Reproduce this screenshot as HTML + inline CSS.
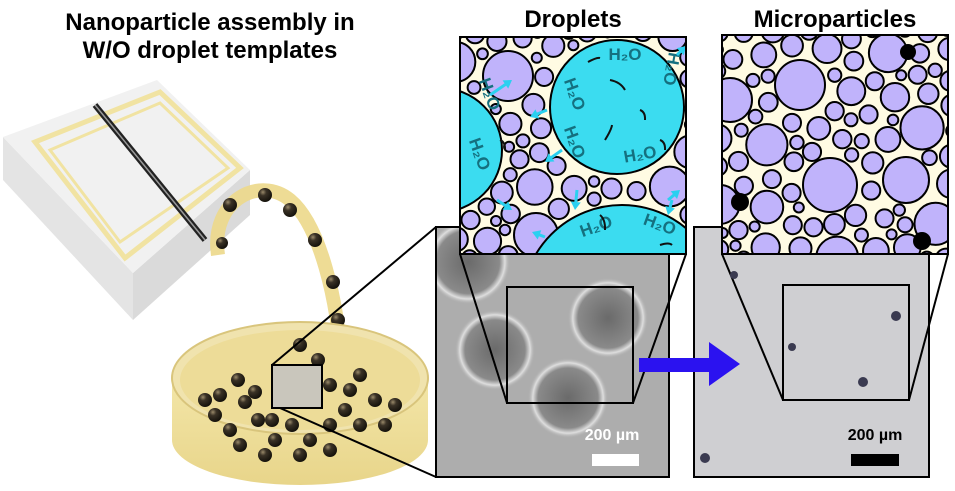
<!DOCTYPE html>
<html><head><meta charset="utf-8"><style>
body{margin:0;background:#fff;width:955px;height:491px;overflow:hidden}
svg{display:block}
text{font-family:"Liberation Sans",Arial,sans-serif;font-weight:bold}
</style></head><body>
<svg id="s" width="955" height="491" viewBox="0 0 955 491" xmlns="http://www.w3.org/2000/svg">
<defs>
<clipPath id="cd"><rect x="460" y="37" width="226" height="217"/></clipPath>
<clipPath id="cm"><rect x="722" y="35" width="226" height="219"/></clipPath>
<clipPath id="cl"><rect x="436" y="227" width="233" height="250"/></clipPath>
<radialGradient id="g1" cx="0.5" cy="0.5" r="0.5"><stop offset="0" stop-color="#6a6a6a"/><stop offset="0.75" stop-color="#8a8a8a"/><stop offset="0.88" stop-color="#dedede"/><stop offset="1" stop-color="#b0b0b0" stop-opacity="0"/></radialGradient>
<radialGradient id="ball" cx="0.35" cy="0.3" r="0.7"><stop offset="0" stop-color="#9a8a6a"/><stop offset="0.35" stop-color="#3a3226"/><stop offset="1" stop-color="#15120c"/></radialGradient>
<linearGradient id="dish" x1="0" y1="0" x2="0" y2="1"><stop offset="0" stop-color="#f3e6a8"/><stop offset="1" stop-color="#e8d58a"/></linearGradient>
</defs>
<text x="210" y="30" font-size="24" text-anchor="middle">Nanoparticle assembly in</text>
<text x="210" y="58" font-size="24" text-anchor="middle">W/O droplet templates</text>
<text x="573" y="27" font-size="24" text-anchor="middle">Droplets</text>
<text x="835" y="27" font-size="24" text-anchor="middle">Microparticles</text>

<polygon points="3,180 133,320 133,273 3,137" fill="#e4e4e4"/>
<polygon points="133,273 250,170 250,215 133,320" fill="#dadada"/>
<polygon points="3,137 157,80 250,170 133,273" fill="#f1f1f1"/>
<polygon points="35,142 160,92 240,168 125,258" fill="none" stroke="#f1e3a2" stroke-width="5"/>
<polygon points="50,150 160,103 228,168 120,242" fill="none" stroke="#f1e3a2" stroke-width="3"/>
<line x1="95" y1="105" x2="205" y2="240" stroke="#222" stroke-width="6"/>
<line x1="95" y1="105" x2="205" y2="240" stroke="#999" stroke-width="1.5"/>
<path d="M218,255 C210,200 260,175 290,200 C320,225 338,300 342,370" fill="none" stroke="#ecd88a" stroke-width="14" stroke-opacity="0.9"/>
<g fill="url(#ball)">
<circle cx="222" cy="243" r="6"/><circle cx="230" cy="205" r="7"/><circle cx="265" cy="195" r="7"/><circle cx="290" cy="210" r="7"/><circle cx="315" cy="240" r="7"/><circle cx="333" cy="282" r="7"/><circle cx="338" cy="320" r="7"/><circle cx="342" cy="353" r="7"/>
</g>
<path d="M172,378 L172,440 A128,45 0 0 0 428,440 L428,378 Z" fill="url(#dish)"/>
<ellipse cx="300" cy="378" rx="128" ry="56" fill="#f0e3ae" stroke="#d9c57c" stroke-width="2"/>
<ellipse cx="300" cy="380" rx="120" ry="50" fill="#eddc98"/>
<g id="balls" fill="url(#ball)"></g>
<rect x="272" y="365" width="50" height="43" fill="#c9c6bc" stroke="#000" stroke-width="2"/>
<line x1="272" y1="365" x2="436" y2="227" stroke="#000" stroke-width="2"/>
<line x1="280" y1="408" x2="436" y2="477" stroke="#000" stroke-width="2"/>

<rect x="436" y="227" width="233" height="250" fill="#adadad"/>
<g clip-path="url(#cl)">
<circle cx="468" cy="262" r="42" fill="url(#g1)"/>
<circle cx="495" cy="350" r="40" fill="url(#g1)"/>
<circle cx="608" cy="318" r="40" fill="url(#g1)"/>
<circle cx="568" cy="398" r="40" fill="url(#g1)"/>
</g>
<rect x="436" y="227" width="233" height="250" fill="none" stroke="#000" stroke-width="2"/>
<rect x="507" y="287" width="126" height="116" fill="none" stroke="#000" stroke-width="2"/>
<line x1="460" y1="254" x2="507" y2="403" stroke="#000" stroke-width="2"/>
<line x1="686" y1="254" x2="633" y2="403" stroke="#000" stroke-width="2"/>
<text x="612" y="440" font-size="16" fill="#fff" text-anchor="middle">200 µm</text>
<rect x="592" y="454" width="47" height="12" fill="#fff"/>

<rect x="694" y="227" width="235" height="250" fill="#cfcfd2" stroke="#000" stroke-width="2"/>
<rect x="783" y="285" width="126" height="115" fill="none" stroke="#000" stroke-width="2"/>
<line x1="722" y1="254" x2="783" y2="400" stroke="#000" stroke-width="2"/>
<line x1="948" y1="254" x2="909" y2="400" stroke="#000" stroke-width="2"/>
<g fill="#3a3a50"><circle cx="734" cy="275" r="4"/><circle cx="896" cy="316" r="5"/><circle cx="792" cy="347" r="4"/><circle cx="863" cy="382" r="5"/><circle cx="705" cy="458" r="5"/></g>
<text x="875" y="440" font-size="16" fill="#000" text-anchor="middle">200 µm</text>
<rect x="851" y="454" width="48" height="12" fill="#000"/>

<polygon points="639,358 709,358 709,342 740,364 709,386 709,372 639,372" fill="#2b12f0"/>

<rect x="460" y="37" width="226" height="217" fill="#fffbe3"/>
<g id="dc" clip-path="url(#cd)"></g>
<rect x="460" y="37" width="226" height="217" fill="none" stroke="#000" stroke-width="2"/>
<rect x="722" y="35" width="226" height="219" fill="#fffbe3"/>
<g id="mc" clip-path="url(#cm)"></g>
<rect x="722" y="35" width="226" height="219" fill="none" stroke="#000" stroke-width="2"/>
</svg>
<script>
(function(){
var NS="http://www.w3.org/2000/svg";
function el(p,t,a){var e=document.createElementNS(NS,t);for(var k in a)e.setAttribute(k,a[k]);p.appendChild(e);return e;}
var seed=7;function rnd(){seed=(seed*16807)%2147483647;return (seed-1)/2147483646;}
function pack(g,x0,y0,w,h,obst,nb,big){
 var cs=obst.slice();
 var list=[];
 for(var i=0;i<big.length;i++){cs.push(big[i]);list.push(big[i]);}
 for(var pass=0;pass<3;pass++){
 for(var t=0;t<8000;t++){
  var r=(pass==0?9:pass==1?6.5:5)+Math.pow(rnd(),2)*(pass==0?13:4);
  var x=x0-5+rnd()*(w+10),y=y0-5+rnd()*(h+10);
  var ok=true;
  for(var j=0;j<cs.length;j++){var c=cs[j];var dx=c[0]-x,dy=c[1]-y;if(Math.sqrt(dx*dx+dy*dy)<c[2]+r+1.5){ok=false;break;}}
  if(ok){cs.push([x,y,r]);list.push([x,y,r]);}
 }}
 list.forEach(function(c){el(g,"circle",{cx:c[0],cy:c[1],r:c[2],fill:"#c0b3fb",stroke:"#000","stroke-width":2});});
 nb.forEach(function(c){el(g,"circle",{cx:c[0],cy:c[1],r:c[2],fill:"#000"});});
}
var dc=document.getElementById("dc");
var drops=[[617,107,67],[440,150,62],[622,305,100]];
pack(dc,460,37,226,217,drops,[],[[508,76,25],[536,235,22]]);
drops.forEach(function(d){el(dc,"circle",{cx:d[0],cy:d[1],r:d[2],fill:"#3bdcf0",stroke:"#000","stroke-width":2});});
var labs=[[625,60,0],[575,100,70],[490,100,70],[480,160,70],[575,148,70],[640,160,-10],[672,75,100],[596,232,-20],[660,230,20]];
labs.forEach(function(l){var t=el(dc,"text",{x:l[0],y:l[1],"font-size":17,fill:"#15707f","text-anchor":"middle",transform:"rotate("+l[2]+" "+l[0]+" "+(l[1]-6)+")"});t.textContent="H\u2082O";});
var sq=[[588,62,600,58],[610,80,625,90],[612,125,605,140],[640,110,645,120],[660,140,665,150],[600,215,605,230],[660,245,672,245],[500,140,505,150]];
sq.forEach(function(s){el(dc,"path",{d:"M"+s[0]+","+s[1]+" Q"+((s[0]+s[2])/2+3)+","+((s[1]+s[3])/2-3)+" "+s[2]+","+s[3],stroke:"#111","stroke-width":2,fill:"none"});});
var ar=[[490,95,512,80],[547,110,530,117],[562,150,545,162],[497,200,512,210],[577,190,575,210],[545,237,532,232],[672,200,668,215],[668,200,680,190],[677,55,686,46]];
ar.forEach(function(a){var dx=a[2]-a[0],dy=a[3]-a[1],L=Math.sqrt(dx*dx+dy*dy),ux=dx/L,uy=dy/L;
 el(dc,"line",{x1:a[0],y1:a[1],x2:a[2]-ux*4,y2:a[3]-uy*4,stroke:"#2ad0f0","stroke-width":3});
 el(dc,"polygon",{points:a[2]+","+a[3]+" "+(a[2]-ux*8-uy*5)+","+(a[3]-uy*8+ux*5)+" "+(a[2]-ux*8+uy*5)+","+(a[3]-uy*8-ux*5),fill:"#2ad0f0"});});
seed=13;
pack(document.getElementById("mc"),722,35,226,219,[],[[908,52,8],[740,202,9],[922,241,9]],[[800,85,25],[730,100,22],[830,185,27],[906,180,23]]);
var bg=document.getElementById("balls");
var pts=[[215,415],[230,430],[245,402],[258,420],[275,440],[292,425],[310,440],[330,425],[345,410],[360,425],[375,400],[385,425],[255,392],[238,380],[330,385],[350,390],[300,345],[318,360],[360,375],[395,405],[205,400],[220,395],[272,420],[300,455],[330,450],[265,455],[240,445]];
pts.forEach(function(p){el(bg,"circle",{cx:p[0],cy:p[1],r:7});});
})();
</script>
</body></html>
